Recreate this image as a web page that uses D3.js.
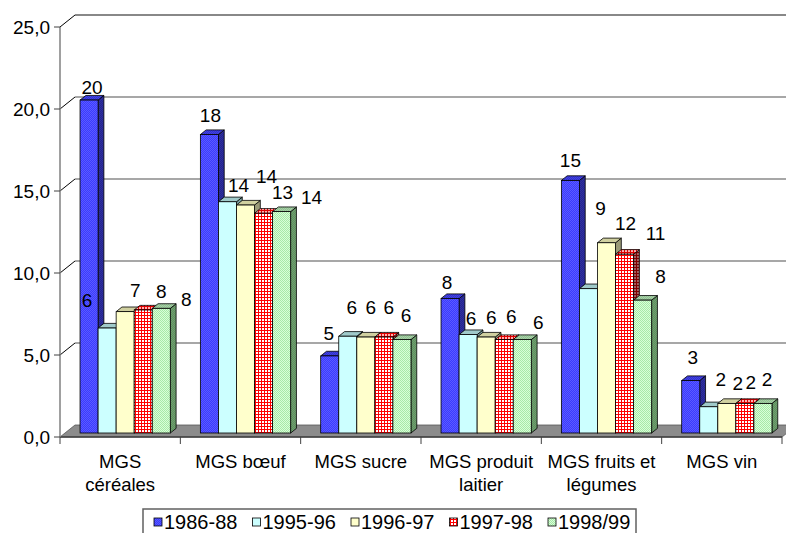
<!DOCTYPE html>
<html>
<head>
<meta charset="utf-8">
<script src="https://cdn.jsdelivr.net/npm/d3@7"></script>
<style>
  html, body { margin: 0; padding: 0; background: #fff; }
  svg { display: block; font-family: "Liberation Sans", Arial, sans-serif; }
</style>
</head>
<body>
<svg id="chart" width="786" height="533"></svg>
<script>
// Categories (line breaks as shown under the axis)
const categories = ["MGS céréales", "MGS bœuf", "MGS sucre", "MGS produit laitier", "MGS fruits et légumes", "MGS vin"];
const categoryLines = [["MGS", "céréales"], ["MGS bœuf"], ["MGS sucre"], ["MGS produit", "laitier"], ["MGS fruits et", "légumes"], ["MGS vin"]];

// Series
const seriesNames = ["1986-88", "1995-96", "1996-97", "1997-98", "1998/99"];
const values8688 = [20.3, 18.2, 4.7, 8.2, 15.4, 3.2];
const values9596 = [6.4, 14.1, 5.9, 6.0, 8.8, 1.6];
const values9697 = [7.4, 13.9, 5.85, 5.85, 11.6, 1.8];
const values9798 = [7.5, 13.4, 5.85, 5.7, 10.9, 1.8];
const values9899 = [7.6, 13.5, 5.7, 5.7, 8.1, 1.8];

// Value axis ticks
const yTicks = [0, 5, 10, 15, 20, 25];

const seriesValues = [values8688, values9596, values9697, values9798, values9899];

// Data-label placement relative to the top of each bar's front face (px), per series then category
const labelShift = [
  [[3, -13], [1, -19], [-1, -23], [-3, -16], [0, -20], [2, -23]],
  [[-20, -28], [11, -17], [4, -29], [3, -16], [12, -81], [12, -28]],
  [[10, -21], [21, -29], [5, -30], [5, -20], [19, -20], [11, -20]],
  [[18, -19], [19, -21], [5, -30], [7, -23], [31, -21], [6, -21]],
  [[25, -9], [30, -14], [4, -24], [16, -17], [18, -24], [4, -24]]
];

const svg = d3.select("#chart");
const W = 786, H = 533;

// Plot geometry (front plane) and oblique depth
const plotL = 60, plotR = 782, plotB = 437, plotT = 27;
const depth = { dx: 15, dy: -12 };
const barFront = 1 / 3, barBack = 0.72;

const x0 = d3.scaleBand().domain(categories).range([plotL, plotR]).padding(0);
const x1 = d3.scaleBand().domain(seriesNames).range([0, x0.bandwidth()]).paddingOuter(0.833).paddingInner(0);
const y = d3.scaleLinear().domain([0, 25]).range([plotB, plotT]);

// Fill patterns
const defs = svg.append("defs");
function checker(id, base, dot, size) {
  const p = defs.append("pattern").attr("id", id).attr("width", size).attr("height", size)
    .attr("patternUnits", "userSpaceOnUse");
  p.append("rect").attr("width", size).attr("height", size).attr("fill", base);
  p.append("rect").attr("width", size / 2).attr("height", size / 2).attr("fill", dot);
  p.append("rect").attr("x", size / 2).attr("y", size / 2).attr("width", size / 2).attr("height", size / 2).attr("fill", dot);
}
function grid(id, base, line, size) {
  const p = defs.append("pattern").attr("id", id).attr("width", size).attr("height", size)
    .attr("patternUnits", "userSpaceOnUse");
  p.append("rect").attr("width", size).attr("height", size).attr("fill", base);
  p.append("rect").attr("width", size).attr("height", 1).attr("fill", line);
  p.append("rect").attr("width", 1).attr("height", size).attr("fill", line);
}
checker("blueF", "#3a3aff", "#5c5cff", 2);
checker("blueS", "#24248f", "#30309f", 2);
checker("blueT", "#3030d0", "#4444e0", 2);
grid("redF", "#ffffff", "#ff0000", 3);
grid("redS", "#a06060", "#800000", 3);
grid("redT", "#ffb0b0", "#e00000", 3);
checker("greenF", "#d8ffd8", "#a8e8a8", 2);
checker("greenS", "#5f8f5f", "#6fa06f", 2);
checker("greenT", "#a8d0a8", "#90c090", 2);

const faceFills = [
  { front: "url(#blueF)", side: "url(#blueS)", top: "url(#blueT)", legend: "url(#blueF)" },
  { front: "#ccffff", side: "#7a9f9f", top: "#a0caca", legend: "#ccffff" },
  { front: "#ffffcc", side: "#9a9a78", top: "#d0d0a0", legend: "#ffffcc" },
  { front: "url(#redF)", side: "url(#redS)", top: "url(#redT)", legend: "url(#redF)" },
  { front: "url(#greenF)", side: "url(#greenS)", top: "url(#greenT)", legend: "url(#greenF)" }
];

const P = (pts) => "M" + pts.map(p => p.join(",")).join("L") + "Z";

// Back wall
const g = svg.append("g");
g.append("path")
  .attr("d", P([[plotL + depth.dx, plotT + depth.dy], [W + 20, plotT + depth.dy], [W + 20, plotB + depth.dy], [plotL + depth.dx, plotB + depth.dy]]))
  .attr("fill", "#ffffff");

// Gridlines on the back wall plus the slanted ticks on the side wall
yTicks.forEach(t => {
  const yy = y(t);
  if (t > 0) {
    g.append("line").attr("x1", plotL + depth.dx).attr("x2", W + 20)
      .attr("y1", yy + depth.dy).attr("y2", yy + depth.dy)
      .attr("stroke", t === 25 ? "#606060" : "#8a8a8a").attr("stroke-width", 1.5);
    g.append("line").attr("x1", plotL).attr("y1", yy).attr("x2", plotL + depth.dx).attr("y2", yy + depth.dy)
      .attr("stroke", "#000").attr("stroke-width", 1);
  }
});

// Floor
g.append("path")
  .attr("d", P([[plotL, plotB], [plotR, plotB], [plotR + depth.dx, plotB + depth.dy], [plotL + depth.dx, plotB + depth.dy]]))
  .attr("fill", "#8c8c8c").attr("stroke", "#555").attr("stroke-width", 0.8);
g.append("line").attr("x1", plotL).attr("x2", plotR).attr("y1", plotB).attr("y2", plotB)
  .attr("stroke", "#404040").attr("stroke-width", 1.5);

// Value axis
g.append("line").attr("x1", plotL).attr("x2", plotL).attr("y1", plotT).attr("y2", plotB)
  .attr("stroke", "#808080").attr("stroke-width", 1.5);
yTicks.forEach(t => {
  g.append("line").attr("x1", plotL - 6).attr("x2", plotL).attr("y1", y(t)).attr("y2", y(t))
    .attr("stroke", "#404040").attr("stroke-width", 1);
  g.append("text").attr("x", plotL - 10).attr("y", y(t)).attr("dy", "0.35em")
    .attr("text-anchor", "end").attr("font-size", 19).text(d3.format(".1f")(t).replace(".", ","));
});

// Category ticks and labels
d3.range(categories.length + 1).forEach(i => {
  const xx = plotL + i * x0.bandwidth();
  g.append("line").attr("x1", xx).attr("x2", xx).attr("y1", plotB).attr("y2", plotB + 7)
    .attr("stroke", "#404040").attr("stroke-width", 1);
});
categories.forEach((c, i) => {
  const t = g.append("text").attr("x", x0(c) + x0.bandwidth() / 2).attr("y", 468)
    .attr("text-anchor", "middle").attr("font-size", 18.5);
  categoryLines[i].forEach((line, j) => {
    t.append("tspan").attr("x", x0(c) + x0.bandwidth() / 2).attr("dy", j === 0 ? 0 : 23).text(line);
  });
});

// Bars: front face, right side and top as oblique prisms
const bars = [];
categories.forEach((c, ci) => {
  seriesNames.forEach((s, si) => {
    bars.push({ c, ci, s, si, v: seriesValues[si][ci] });
  });
});
const bx = depth.dx * barFront, by = depth.dy * barFront;
const ddx = depth.dx * (barBack - barFront), ddy = depth.dy * (barBack - barFront);

const barG = g.append("g").selectAll("g").data(bars).join("g");
barG.each(function (d) {
  const sel = d3.select(this);
  const xL = x0(d.c) + x1(d.s) + bx, xR = xL + x1.bandwidth();
  const yT = y(d.v) + by, yB = y(0) + by;
  const f = faceFills[d.si];
  sel.append("path").attr("d", P([[xR, yB], [xR + ddx, yB + ddy], [xR + ddx, yT + ddy], [xR, yT]]))
    .attr("fill", f.side).attr("stroke", "#000").attr("stroke-width", 0.8);
  sel.append("path").attr("d", P([[xL, yT], [xR, yT], [xR + ddx, yT + ddy], [xL + ddx, yT + ddy]]))
    .attr("fill", f.top).attr("stroke", "#000").attr("stroke-width", 0.8);
  sel.append("rect").attr("x", xL).attr("y", yT).attr("width", xR - xL).attr("height", yB - yT)
    .attr("fill", f.front).attr("stroke", "#000").attr("stroke-width", 0.8);
});

// Value labels
g.append("g").selectAll("text").data(bars).join("text")
  .attr("x", d => x0(d.c) + x1(d.s) + bx + x1.bandwidth() / 2 + labelShift[d.si][d.ci][0])
  .attr("y", d => y(d.v) + by + labelShift[d.si][d.ci][1])
  .attr("dy", "0.36em")
  .attr("text-anchor", "middle").attr("font-size", 19)
  .text(d => d3.format(".0f")(d.v));

// Legend (box runs past the lower edge of the drawing)
const legend = svg.append("g");
legend.append("rect").attr("x", 143).attr("y", 509).attr("width", 493).attr("height", 30)
  .attr("fill", "#fff").attr("stroke", "#606060").attr("stroke-width", 1.5);
const legendX = d3.scaleLinear().domain([0, seriesNames.length - 1]).range([154, 548]);
seriesNames.forEach((s, i) => {
  const lx = legendX(i);
  legend.append("rect").attr("x", lx).attr("y", 518).attr("width", 8).attr("height", 8)
    .attr("fill", faceFills[i].legend).attr("stroke", "#000").attr("stroke-width", 0.8);
  legend.append("text").attr("x", lx + 10).attr("y", 522).attr("dy", "0.36em")
    .attr("font-size", 20).text(s);
});
</script>
</body>
</html>
